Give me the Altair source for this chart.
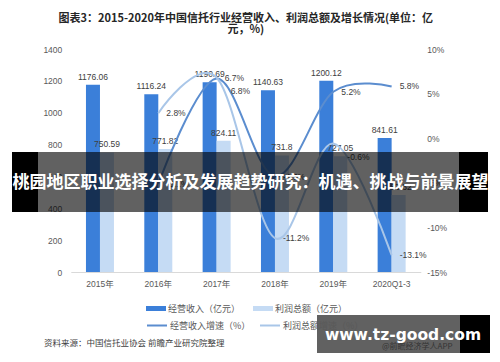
import altair as alt
import pandas as pd

# ---------------- data ----------------
categories = ["2015年", "2016年", "2017年", "2018年", "2019年", "2020Q1-3"]
revenue = [1176.06, 1116.24, 1190.69, 1140.63, 1200.12, 841.61]
profit = [750.59, 771.82, 824.11, 731.8, 727.05, 483.32]
revenue_growth = [None, -5.1, 6.7, -4.3, 5.2, 5.8]
profit_growth = [None, 2.8, 6.8, -11.2, -0.6, -13.1]
bar_series = ["经营收入（亿元）", "利润总额（亿元）"]
line_series = ["经营收入增速（%）", "利润总额增速（%）"]
left_ticks = [0, 200, 400, 600, 800, 1000, 1200, 1400]
right_ticks = [-15, -10, -5, 0, 5, 10]
title_lines = ["图表3：2015-2020年中国信托行业经营收入、利润总额及增长情况(单位：亿", "元，%)"]
banner_text = "桃园地区职业选择分析及发展趋势研究：机遇、挑战与前景展望"
source_text = "资料来源：中国信托业协会 前瞻产业研究院整理"
site_text = "www.tz-good.com"
app_text = "@前瞻经济学人APP"

# ---------------- styling ----------------
FONT = "Liberation Sans, Noto Sans CJK SC"
CJK = "Noto Sans CJK SC"
bar_colors = ["#3b7fd9", "#c5dbf4"]
line_colors = ["#5b8dcf", "#a9c6e8"]
TXT = "#595959"

PAD_L, PAD_T = 62.8, 41
W, H = 350, 223


def vx(px):
    return px - 8 - PAD_L


def vy(py):
    return py - 8 - PAD_T


# ---------------- tables ----------------
bar_rows = []
for c, r, p in zip(categories, revenue, profit):
    bar_rows.append({"cat": c, "series": bar_series[0], "value": r, "label": f"{r:g}"})
    bar_rows.append({"cat": c, "series": bar_series[1], "value": p, "label": f"{p:g}"})
bar_df = pd.DataFrame(bar_rows)

line_rows = []
for s, vals in zip(line_series, [revenue_growth, profit_growth]):
    for c, v in zip(categories, vals):
        if v is not None:
            line_rows.append({"cat": c, "series": s, "value": v, "label": f"{v:g}%"})
line_df = pd.DataFrame(line_rows)

# ---------------- encodings ----------------
x_axis = alt.Axis(title=None, labelAngle=0, domain=True, domainColor="#d9d9d9",
                  ticks=False, grid=False, labelPadding=7, labelFontSize=8.5,
                  labelColor=TXT, labelFont=FONT)


def x_enc():
    return alt.X("cat:N", sort=categories,
                 scale=alt.Scale(domain=categories, paddingInner=0.52, paddingOuter=0.26),
                 axis=x_axis)


def xoff_enc():
    return alt.XOffset("series:N", scale=alt.Scale(domain=bar_series, paddingInner=0, paddingOuter=0))


left_axis = alt.Axis(title=None, orient="left", values=left_ticks, format="d", domain=False, ticks=False,
                     grid=False, labelPadding=9, labelFontSize=8.5, labelColor=TXT, labelFont=FONT)
right_axis = alt.Axis(title=None, orient="right", values=right_ticks, labelExpr="datum.value + '%'",
                      domain=False, ticks=False, grid=False, labelPadding=6, labelFontSize=8.5,
                      labelColor=TXT, labelFont=FONT)


def y_left():
    return alt.Y("value:Q", scale=alt.Scale(domain=[0, 1400], nice=False), axis=left_axis)


def y_right():
    return alt.Y("value:Q", scale=alt.Scale(domain=[-15, 10], nice=False, zero=False), axis=right_axis)


bars = alt.Chart(bar_df).mark_bar().encode(
    x=x_enc(), xOffset=xoff_enc(), y=y_left(),
    color=alt.Color("series:N", scale=alt.Scale(domain=bar_series, range=bar_colors),
                    legend=alt.Legend(title=None, orient="none", legendX=vx(146), legendY=vy(298.5),
                                      direction="horizontal", symbolType="M-1,-0.25H1V0.25H-1Z",
                                      symbolSize=400, symbolStrokeWidth=0, labelFontSize=9,
                                      labelColor=TXT, labelFont=CJK, labelOffset=2,
                                      columnPadding=12, padding=0)),
)
bar_text = alt.Chart(bar_df).mark_text(baseline="middle", dy=-8, fontSize=8.5, color="#404040", font=FONT).encode(
    x=x_enc(), xOffset=xoff_enc(), y=y_left(), text="label:N")

bar_layer = alt.layer(bars, bar_text)

lines = alt.Chart(line_df).mark_line(interpolate="cardinal", tension=0, strokeWidth=2).encode(
    x=x_enc(), y=y_right(),
    stroke=alt.Stroke("series:N", scale=alt.Scale(domain=line_series, range=line_colors),
                      legend=alt.Legend(title=None, orient="none", legendX=vx(146), legendY=vy(314.5),
                                        direction="horizontal", symbolType="stroke", symbolSize=400,
                                        symbolStrokeWidth=2, labelFontSize=9, labelColor=TXT,
                                        labelFont=CJK, labelOffset=2, columnPadding=5, padding=0)),
)
special = f"datum.series == '{line_series[1]}' && (datum.cat == '{categories[2]}' || datum.cat == '{categories[4]}')"
line_text = alt.Chart(line_df).mark_text(align="left", baseline="middle", dx=8, fontSize=8.5,
                                         color="#404040", font=FONT).encode(
    x=x_enc(), y=y_right(), text="label:N").transform_filter(f"!({special})")
line_text2 = alt.Chart(line_df).mark_text(align="left", baseline="middle", dx=14, dy=13, fontSize=8.5,
                                          color="#404040", font=FONT).encode(
    x=x_enc(), y=y_right(), text="label:N").transform_filter(special)

line_layer = alt.layer(lines, line_text, line_text2)

one = pd.DataFrame({"k": [0]})


def deco_rect(x1, x2, y1, y2, color, opacity):
    return alt.Chart(one).mark_rect(color=color, opacity=opacity).encode(
        x=alt.value(vx(x1)), x2=alt.value(vx(x2)), y=alt.value(vy(y1)), y2=alt.value(vy(y2)))


def deco_text(t, x, y, size, color, weight="normal", align="center", font=CJK):
    return alt.Chart(one).mark_text(text=t, fontSize=size, color=color, fontWeight=weight,
                                    align=align, baseline="middle", font=font).encode(
        x=alt.value(vx(x)), y=alt.value(vy(y)))


source = deco_text(source_text, 44, 343, 8.5, "#404040", align="left")
app = deco_text(app_text, 382, 347, 8, "#8c8c8c", align="left")
banner_mid = deco_rect(38, 459, 152, 212, "#000000", 0.62)
banner_l = deco_rect(12, 38, 152, 212, "#000000", 1)
banner_r = deco_rect(459, 488, 152, 212, "#000000", 1)
banner_t = deco_text(banner_text, 250.6, 183, 17, "#ffffff", weight="bold")
wm_mid = deco_rect(317, 460, 315, 353, "#000000", 0.62)
wm_r = deco_rect(460, 490, 315, 353, "#000000", 1)
wm_t = deco_text(site_text, 403, 335, 15.5, "#ffffff", weight="bold", font="DejaVu Sans")

chart = alt.layer(
    bar_layer, line_layer, source, app,
    banner_mid, banner_l, banner_r, banner_t, wm_mid, wm_r, wm_t,
).resolve_scale(y="independent").properties(
    width=W, height=H,
    title=alt.TitleParams(text=title_lines, anchor="middle", frame="group", fontSize=11,
                          fontWeight="bold", color="#262626", font=CJK, offset=10, lineHeight=11.5),
    autosize=alt.AutoSizeParams(type="none"),
    padding={"left": PAD_L, "top": PAD_T, "right": 500 - 16 - PAD_L - W, "bottom": 362 - 16 - PAD_T - H},
).configure_view(stroke=None)

chart.save("out.html", embed_options={"renderer": "svg", "actions": False})
